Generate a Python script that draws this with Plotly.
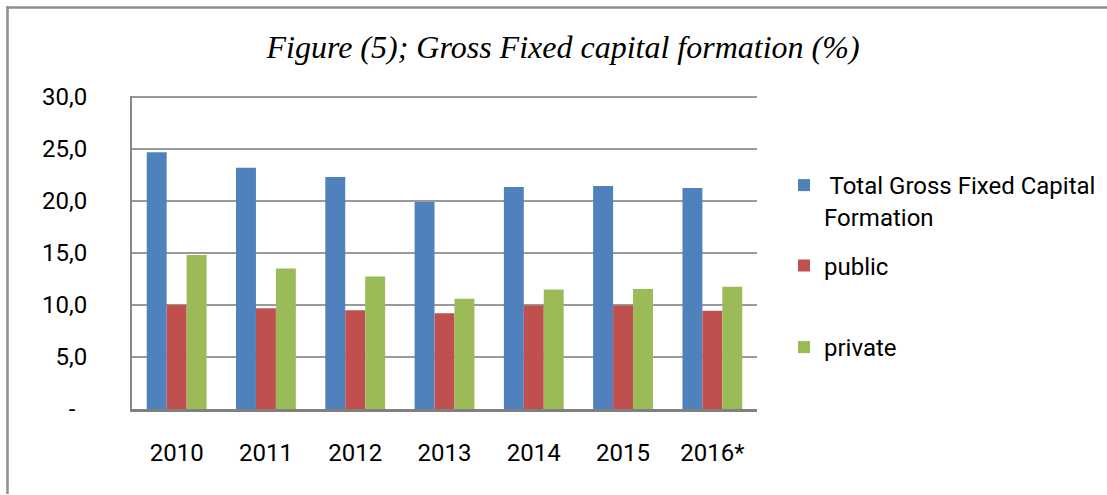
import plotly.graph_objects as go

years = ["2010", "2011", "2012", "2013", "2014", "2015", "2016*"]
total = [24.7, 23.2, 22.3, 19.9, 21.35, 21.45, 21.25]
public = [10.0, 9.7, 9.5, 9.2, 9.95, 9.95, 9.45]
private = [14.8, 13.5, 12.75, 10.6, 11.5, 11.55, 11.75]

series_names = [" Total Gross Fixed Capital<br>Formation", "public", "private"]
colors = ["#4F81BD", "#C0504D", "#9BBB59"]

ytick_vals = [0, 5, 10, 15, 20, 25, 30]
ytick_text = ["-\u00a0\u00a0", "5,0", "10,0", "15,0", "20,0", "25,0", "30,0"]

title_text = "Figure (5); Gross Fixed capital formation (%)"

W, H = 1107, 495
L, R, T, B = 132, 0, 96, 86
PLOT_W = 625
YMAX = 30.1

fig = go.Figure()
for name, vals, col, lg, grp in zip(series_names, [total, public, private], colors,
                                    ["legend", "legend", "legend2"], ["a", "b", "c"]):
    fig.add_trace(go.Bar(x=years, y=vals, name=name, marker_color=col,
                         marker_line_width=0, legend=lg, legendgroup=grp))

font_sans = "Roboto, 'Liberation Sans', sans-serif"
FS = 24

pw = W - L - R
ph = H - T - B
def px_x(p):
    return (p - L) / pw
def px_y(p):
    return (H - B - p) / ph

border = dict(color="#8f8f8f", width=2.5)

fig.update_layout(
    width=W, height=H,
    margin=dict(l=L, r=R, t=T, b=B, pad=0, autoexpand=False),
    paper_bgcolor="white", plot_bgcolor="white",
    barmode="group", bargap=0.33, bargroupgap=0,
    title=dict(text=title_text, x=563 / W, xanchor="center", xref="container",
               y=1 - 47 / H, yanchor="middle", yref="container",
               font=dict(family="'Liberation Serif', 'Times New Roman', serif", size=32,
                         color="black", style="italic")),
    font=dict(family=font_sans, size=FS, color="black"),
    showlegend=True,
    legend=dict(x=px_x(784), y=px_y(163), xanchor="left", yanchor="top",
                bgcolor="rgba(0,0,0,0)", valign="top", tracegroupgap=15,
                font=dict(family=font_sans, size=FS, color="black"),
                itemclick=False),
    legend2=dict(x=px_x(784), y=px_y(325), xanchor="left", yanchor="top",
                 bgcolor="rgba(0,0,0,0)", valign="top",
                 font=dict(family=font_sans, size=FS, color="black"),
                 itemclick=False),
    shapes=[
        dict(type="line", xref="paper", yref="paper",
             x0=px_x(6.3), x1=px_x(1130), y0=px_y(7.5), y1=px_y(7.5),
             line=border, layer="below"),
        dict(type="line", xref="paper", yref="paper",
             x0=px_x(7.5), x1=px_x(7.5), y0=px_y(6.3), y1=px_y(494),
             line=border, layer="below"),
    ],
)

fig.update_yaxes(range=[0, YMAX], tickvals=ytick_vals, ticktext=ytick_text,
                 showgrid=True, gridcolor="#9a9a9a", gridwidth=2,
                 showline=True, linecolor="#868686", linewidth=2,
                 zeroline=False, ticks="", ticklabelstandoff=38,
                 tickfont=dict(family=font_sans, size=FS, color="black"))
fig.update_xaxes(domain=[0, PLOT_W / pw], showgrid=False, showline=True,
                 linecolor="#808080", linewidth=2.5,
                 ticks="", ticklabelstandoff=20,
                 tickfont=dict(family=font_sans, size=FS, color="black"))

fig.write_html("out.html", config={"displayModeBar": False},
               post_script="document.body.style.margin='0';document.body.style.overflow='hidden';")
